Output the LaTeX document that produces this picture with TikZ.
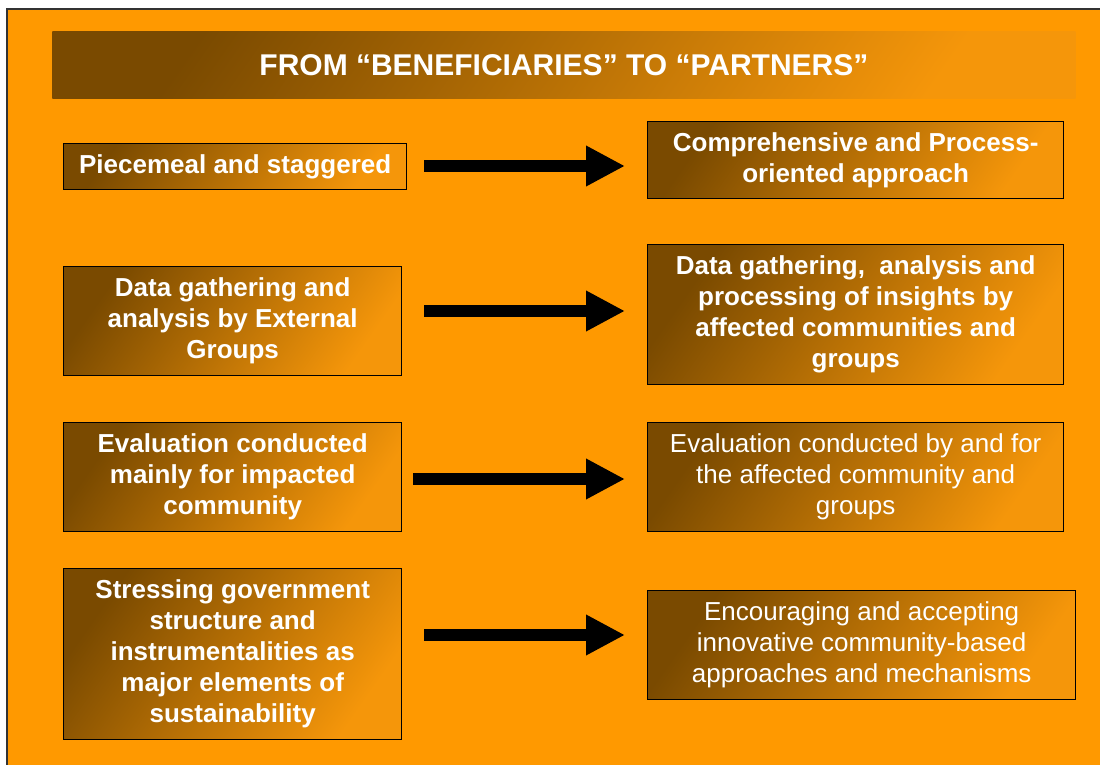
\documentclass[tikz,border=0pt]{standalone}
\usepackage{fontspec}
\setmainfont{Liberation Sans}
\usepackage{tikz}
\usetikzlibrary{arrows.meta,calc}
\definecolor{bgorange}{RGB}{255,153,0}
\definecolor{boxdark}{RGB}{122,74,0}
\definecolor{boxmid}{RGB}{150,88,2}
\definecolor{boxlight}{RGB}{245,150,10}

\begin{document}
\begin{tikzpicture}[x=0.5pt,y=-0.5pt,
  shadebox/.style={anchor=north west,inner sep=0pt,align=center,text=white,
    top color=boxdark,middle color=boxmid,bottom color=boxlight,shading angle=55,
    font=\fontsize{13}{15.5}\selectfont\bfseries},
  oldbox/.style={shadebox,draw=black,line width=0.7pt},
  newbox/.style={shadebox,draw=black,line width=0.7pt},
  plainbox/.style={newbox,font=\fontsize{13}{15.5}\selectfont},
  bigarrow/.style={line width=6pt,-{Triangle[length=19.5pt,width=19pt]},shorten >=11pt}]
\useasboundingbox (0,0) rectangle (1100,765);
\fill[white] (0,0) rectangle (1100,765);
\filldraw[fill=bgorange,draw=black!80,line width=1pt] (7,9) rectangle (1115,790);

% title
\node[shadebox,minimum width=511.5pt,minimum height=33.5pt,
  font=\fontsize{15}{18}\selectfont\bfseries] (title) at (52,31)
  {FROM \textquotedblleft BENEFICIARIES\textquotedblright{} TO \textquotedblleft PARTNERS\textquotedblright};

% old way
\node[oldbox,minimum width=171.5pt,minimum height=23pt] (l1) at (63,143) {Piecemeal and staggered};
\node[oldbox,minimum width=169pt,minimum height=54.5pt] (l2) at (63,266)
  {Data gathering and\\analysis by External\\Groups};
\node[oldbox,minimum width=169pt,minimum height=54.5pt] (l3) at (63,422)
  {Evaluation conducted\\mainly for impacted\\community};
\node[oldbox,minimum width=169pt,minimum height=85.5pt] (l4) at (63,568)
  {Stressing government\\structure and\\instrumentalities as\\major elements of\\sustainability};

% new way
\node[newbox,minimum width=208pt,minimum height=38.5pt] (r1) at (647,121)
  {Comprehensive and Process-\\oriented approach};
\node[newbox,minimum width=208pt,minimum height=70pt] (r2) at (647,244)
  {Data gathering,\ \ analysis and\\processing of insights by\\affected communities and\\groups};
\node[plainbox,minimum width=208pt,minimum height=54.5pt] (r3) at (647,422)
  {Evaluation conducted by and for\\the affected community and\\groups};
\node[plainbox,minimum width=214pt,minimum height=54.5pt] (r4) at (647,590)
  {Encouraging and accepting\\innovative community-based\\approaches and mechanisms};

% arrows
\draw[bigarrow,shorten <=8.5pt] (l1.east |- 0,166) -- (r1.west |- 0,166);
\draw[bigarrow,shorten <=11pt] (l2.east |- 0,311) -- (r2.west |- 0,311);
\draw[bigarrow,shorten <=5.5pt] (l3.east |- 0,479) -- (r3.west |- 0,479);
\draw[bigarrow,shorten <=11pt] (l4.east |- 0,635) -- (r4.west |- 0,635);
\end{tikzpicture}
\end{document}
